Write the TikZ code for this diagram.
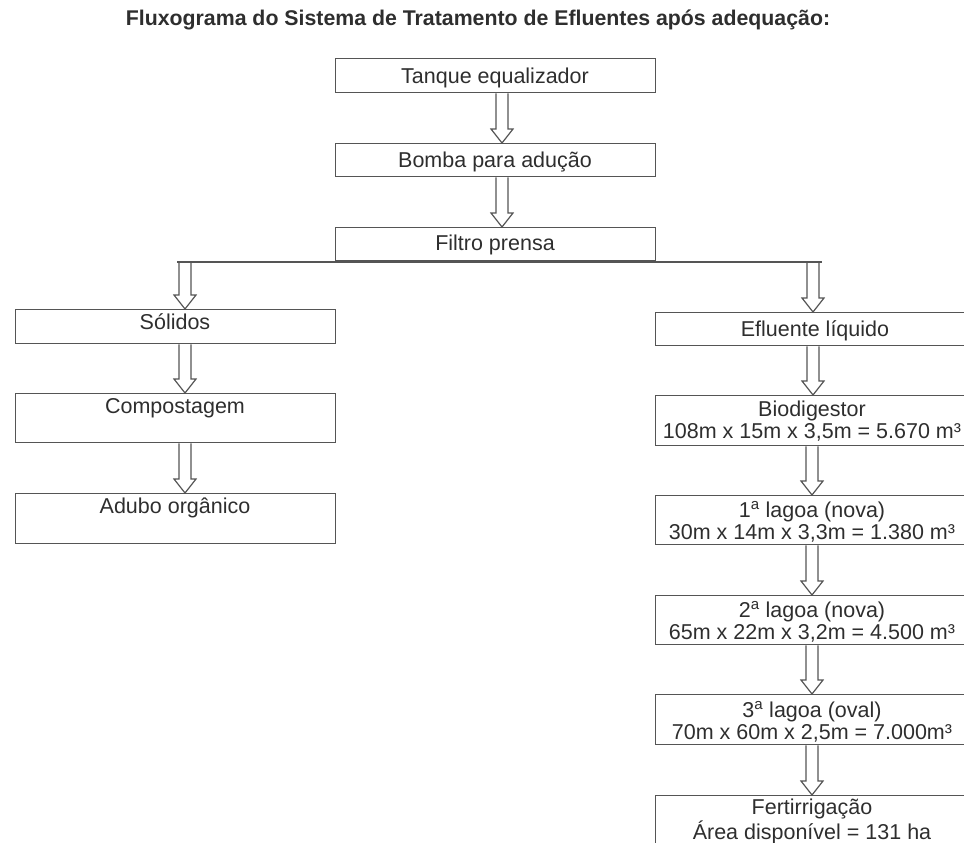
\documentclass[tikz,border=0pt]{standalone}
\usepackage{fontspec}
\setmainfont{Liberation Sans}
\usetikzlibrary{calc}
\definecolor{linecol}{HTML}{555555}
\definecolor{txtcol}{HTML}{2E2E2E}
\newcommand\twol[2]{\begin{tabular}[t]{@{}c@{}}#1\\#2\end{tabular}}
\newcommand\barrow[3]{\draw[barr] let \p1=(#2), \p2=(#3) in
  (#1pt-6pt,\y1) -- (#1pt-6pt,\y2+14pt) -- (#1pt-11pt,\y2+14pt) -- (#1pt,\y2)
  -- (#1pt+11pt,\y2+14pt) -- (#1pt+6pt,\y2+14pt) -- (#1pt+6pt,\y1);}
\begin{document}
\begin{tikzpicture}[x=1pt,y=-1pt,
  box/.style={draw=linecol, line width=1.3pt, rectangle, inner sep=0pt, anchor=north west, minimum width=320pt},
  rbox/.style={box, minimum width=360pt},
  txt/.style={text=txtcol, inner sep=0pt, anchor=base, font=\fontsize{21.5}{22}\selectfont},
  barr/.style={draw=linecol, line width=1.2pt, line join=miter},
  line/.style={draw=linecol, line width=1.6pt}]
\useasboundingbox (0,0) rectangle (964,843);
\clip (0,0) rectangle (964,843);
% title
\node[txt, font=\fontsize{21.3}{24}\bfseries] (title) at (478,26) {Fluxograma do Sistema de Tratamento de Efluentes após adequação:};
% central column
\node[box, minimum height=34pt] (tq) at (335,58) {};
\node[txt] (tqt) at (495,84) {Tanque equalizador};
\node[box, minimum height=33pt] (bb) at (335,143) {};
\node[txt] (bbt) at (495,167) {Bomba para adução};
\node[box, minimum height=33pt] (fp) at (335,227) {};
\node[txt] (fpt) at (495,250) {Filtro prensa};
% left column
\node[box, minimum height=34pt] (so) at (15,309) {};
\node[txt] (sot) at (175,329) {Sólidos};
\node[box, minimum height=49pt] (co) at (15,393) {};
\node[txt] (cot) at (175,413) {Compostagem};
\node[box, minimum height=50pt] (ad) at (15,493) {};
\node[txt] (adt) at (175,513) {Adubo orgânico};
% right column
\node[rbox, minimum height=33pt] (ef) at (655,312) {};
\node[txt] (eft) at (815,336) {Efluente líquido};
\node[rbox, minimum height=50pt] (bi) at (655,395) {};
\node[txt] (bit) at (812,416) {\twol{Biodigestor}{108m x 15m x 3,5m = 5.670 m³}};
\node[rbox, minimum height=49pt] (l1) at (655,495) {};
\node[txt] (l1t) at (812,517) {\twol{1\textsuperscript{a} lagoa (nova)}{30m x 14m x 3,3m = 1.380 m³}};
\node[rbox, minimum height=49pt] (l2) at (655,595) {};
\node[txt] (l2t) at (812,617) {\twol{2\textsuperscript{a} lagoa (nova)}{65m x 22m x 3,2m = 4.500 m³}};
\node[rbox, minimum height=50pt] (l3) at (655,694) {};
\node[txt] (l3t) at (812,717) {\twol{3\textsuperscript{a} lagoa (oval)}{70m x 60m x 2,5m = 7.000m³}};
\node[rbox, minimum height=70pt] (fe) at (655,795) {};
\node[txt] (fet) at (812,814) {\twol{Fertirrigação}{Área disponível = 131 ha}};
% branch line
\coordinate (jl) at (177,262);
\coordinate (jr) at (822,262);
\draw[line] (jl) -- (jr);
% arrows
\barrow{502}{tq.south}{bb.north}
\barrow{502}{bb.south}{fp.north}
\barrow{185}{jl}{so.north}
\barrow{185}{so.south}{co.north}
\barrow{185}{co.south}{ad.north}
\barrow{813}{jr}{ef.north}
\barrow{813}{ef.south}{bi.north}
\barrow{812}{bi.south}{l1.north}
\barrow{812}{l1.south}{l2.north}
\barrow{812}{l2.south}{l3.north}
\barrow{812}{l3.south}{fe.north}
\end{tikzpicture}
\end{document}
